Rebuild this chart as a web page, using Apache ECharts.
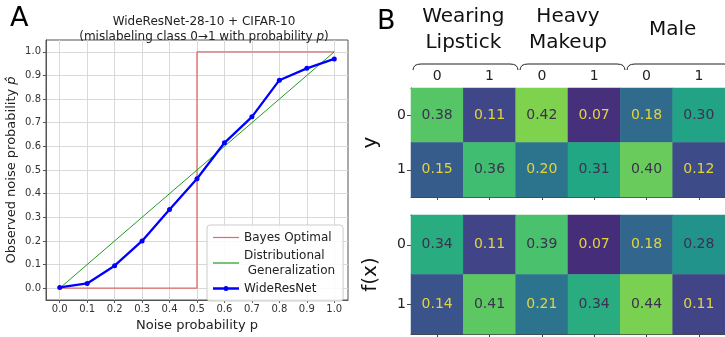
<!DOCTYPE html>
<html><head><meta charset="utf-8">
<script src="https://cdn.jsdelivr.net/npm/echarts@6/dist/echarts.min.js"></script>
<style>html,body{margin:0;padding:0;background:#fff}#c{width:725px;height:337px}</style>
</head><body><div id="c"></div>
<script>
// ---- data ----
const noiseP = [0.0, 0.1, 0.2, 0.3, 0.4, 0.5, 0.6, 0.7, 0.8, 0.9, 1.0];
const wideResNet = [0.003, 0.02, 0.095, 0.20, 0.333, 0.463, 0.615, 0.725, 0.88, 0.93, 0.97];
const bayesX = [0.0, 0.5, 0.5, 1.0];
const bayesY = [0.0, 0.0, 1.0, 1.0];
const distX = [0.0, 1.0];
const distY = [0.0, 1.0];
const tickValues = [0.0, 0.1, 0.2, 0.3, 0.4, 0.5, 0.6, 0.7, 0.8, 0.9, 1.0];
const groups = ['Wearing\nLipstick', 'Heavy\nMakeup', 'Male'];
const colLabels = ['0', '1', '0', '1', '0', '1'];
const rowLabels = ['0', '1'];
const yMatrix = [[0.38, 0.11, 0.42, 0.07, 0.18, 0.30], [0.15, 0.36, 0.20, 0.31, 0.40, 0.12]];
const fxMatrix = [[0.34, 0.11, 0.39, 0.07, 0.18, 0.28], [0.14, 0.41, 0.21, 0.34, 0.44, 0.11]];

// ---- layout / style ----
const FONT = 'DejaVu Sans';
const viridis = ['#440154', '#482475', '#414487', '#355f8d', '#2a788e', '#21918c', '#22a884', '#44bf70', '#7ad151', '#bddf26', '#fde725'];
const hmLeft = 411, hmWidth = 321;
const cellW = hmWidth / colLabels.length;
// thin horizontal bar icons (outer move-tos keep the bounding box 26x10)
const lineIcon = 'path://M0,0 M26,10 M0,4.4 L26,4.4 L26,5.6 L0,5.6 Z';
const markerIcon = 'path://M0,0 M26,10 M0,3.8 L26,3.8 L26,6.2 L0,6.2 Z M10.5,5 A2.5,2.5 0 1 1 15.5,5 A2.5,2.5 0 1 1 10.5,5 Z';

function pairs(xs, ys) { return xs.map((x, i) => [x, ys[i]]); }
function hmData(m) {
  const out = [];
  m.forEach((row, r) => row.forEach((v, c) => out.push({
    value: [c, r, v],
    label: { color: v < 0.25 ? '#e4d43c' : '#3d3050' }
  })));
  return out;
}

const chart = echarts.init(document.getElementById('c'), null, { renderer: 'canvas' });

const braces = groups.map((g, i) => {
  const x0 = hmLeft + 2 * i * cellW + 2, x1 = hmLeft + 2 * (i + 1) * cellW;
  return {
    type: 'polyline', silent: true,
    shape: { points: [[x0, 70], [x0 + 0.6, 67.5], [x0 + 2, 65.5], [x0 + 4.5, 64.4], [x0 + 8, 64],
                      [x1 - 8, 64], [x1 - 4.5, 64.4], [x1 - 2, 65.5], [x1 - 0.6, 67.5], [x1, 70]] },
    style: { fill: null, stroke: '#222', lineWidth: 1 }
  };
});

const heatAxisCommon = {
  axisLine: { show: true, lineStyle: { color: '#444', width: 1 } },
  splitLine: { show: false }
};

chart.setOption({
  animation: false,
  textStyle: { fontFamily: FONT },
  title: [{
    text: 'WideResNet-28-10 + CIFAR-10\n(mislabeling class 0\u21921 with probability {i|p})',
    left: 199, top: 9, textAlign: 'center',
    textStyle: {
      fontFamily: FONT, fontSize: 12, fontWeight: 'normal', lineHeight: 15, color: '#222',
      rich: { i: { fontFamily: FONT, fontSize: 12, fontStyle: 'italic', color: '#222', lineHeight: 15 } }
    }
  }],
  graphic: [
    { type: 'text', left: 10, top: 5, style: { text: 'A', font: '27px ' + FONT, fill: '#000' } },
    { type: 'text', left: 377, top: 8, style: { text: 'B', font: '27px ' + FONT, fill: '#000' } },
    ...braces
  ],
  legend: {
    orient: 'vertical', left: 207, top: 225, itemWidth: 26, itemHeight: 10, itemGap: 3,
    padding: [5, 8, 5, 6], borderColor: '#ccc', borderWidth: 1, borderRadius: 3,
    backgroundColor: 'rgba(255,255,255,0.85)',
    textStyle: { fontFamily: FONT, fontSize: 12, color: '#222', lineHeight: 15 },
    data: [
      { name: 'Bayes Optimal', icon: lineIcon },
      { name: 'Distributional\n Generalization', icon: lineIcon },
      { name: 'WideResNet', icon: markerIcon }
    ]
  },
  grid: [
    { left: 46, top: 40, width: 302, height: 260, show: true, borderColor: '#555', borderWidth: 1, containLabel: false },
    { left: hmLeft, top: 88, width: hmWidth, height: 109, containLabel: false },
    { left: hmLeft, top: 215, width: hmWidth, height: 119, containLabel: false }
  ],
  visualMap: [
    { show: false, type: 'continuous', seriesIndex: 3, min: 0, max: 0.52, inRange: { color: viridis } },
    { show: false, type: 'continuous', seriesIndex: 4, min: 0, max: 0.55, inRange: { color: viridis } }
  ],
  xAxis: [
    {
      gridIndex: 0, type: 'value', min: -0.05, max: 1.05,
      name: 'Noise probability p', nameLocation: 'middle', nameGap: 16,
      nameTextStyle: { fontFamily: FONT, fontSize: 13, color: '#222' },
      axisLine: { show: true, onZero: false, lineStyle: { color: '#555' } },
      axisTick: { show: true, length: 3, customValues: tickValues, lineStyle: { color: '#555' } },
      axisLabel: { customValues: tickValues, fontSize: 10, color: '#333', margin: 4, formatter: v => v.toFixed(1) },
      splitLine: { show: true, lineStyle: { color: '#d9d9d9', width: 1 } }
    },
    Object.assign({
      gridIndex: 1, type: 'category', data: colLabels, position: 'bottom',
      axisTick: { show: true, alignWithLabel: true, length: 3, lineStyle: { color: '#444' } },
      axisLabel: { show: false }
    }, heatAxisCommon),
    Object.assign({
      gridIndex: 1, type: 'category', data: colLabels, position: 'top',
      axisTick: { show: false },
      axisLabel: { show: true, interval: 0, fontSize: 14, color: '#222', margin: 5 }
    }, heatAxisCommon),
    {
      gridIndex: 1, type: 'category', data: groups, position: 'top',
      axisLine: { show: false }, axisTick: { show: false }, splitLine: { show: false },
      axisLabel: { show: true, interval: 0, hideOverlap: false, fontSize: 20, lineHeight: 26, color: '#111', margin: 58, verticalAlign: 'middle', align: 'center' }
    },
    Object.assign({
      gridIndex: 2, type: 'category', data: colLabels, position: 'bottom',
      axisTick: { show: true, alignWithLabel: true, interval: 0, length: 3, lineStyle: { color: '#444' } },
      axisLabel: { show: false }
    }, heatAxisCommon),
    Object.assign({
      gridIndex: 2, type: 'category', data: colLabels, position: 'top',
      axisTick: { show: false }, axisLabel: { show: false }
    }, heatAxisCommon)
  ],
  yAxis: [
    {
      gridIndex: 0, type: 'value', min: -0.05, max: 1.05,
      name: 'Observed noise probability {i|p\u0302}', nameLocation: 'middle', nameGap: 28,
      nameTextStyle: {
        fontFamily: FONT, fontSize: 13, color: '#222',
        rich: { i: { fontFamily: FONT, fontSize: 13, fontStyle: 'italic', color: '#222' } }
      },
      axisLine: { show: true, onZero: false, lineStyle: { color: '#555' } },
      axisTick: { show: true, length: 3, customValues: tickValues, lineStyle: { color: '#555' } },
      axisLabel: { customValues: tickValues, fontSize: 10, color: '#333', margin: 5, formatter: v => v.toFixed(1) },
      splitLine: { show: true, lineStyle: { color: '#d9d9d9', width: 1 } }
    },
    Object.assign({
      gridIndex: 1, type: 'category', data: rowLabels, inverse: true,
      name: 'y', nameLocation: 'middle', nameGap: 30, nameRotate: 90,
      nameTextStyle: { fontFamily: FONT, fontSize: 20, color: '#111' },
      axisTick: { show: true, alignWithLabel: true, length: 4, lineStyle: { color: '#444' } },
      axisLabel: { fontSize: 14, color: '#222', margin: 5 }
    }, heatAxisCommon),
    Object.assign({
      gridIndex: 2, type: 'category', data: rowLabels, inverse: true,
      name: 'f(x)', nameLocation: 'middle', nameGap: 30, nameRotate: 90,
      nameTextStyle: { fontFamily: FONT, fontSize: 20, color: '#111' },
      axisTick: { show: true, alignWithLabel: true, length: 4, lineStyle: { color: '#444' } },
      axisLabel: { fontSize: 14, color: '#222', margin: 5 }
    }, heatAxisCommon)
  ],
  series: [
    {
      name: 'Bayes Optimal', type: 'line', xAxisIndex: 0, yAxisIndex: 0,
      data: pairs(bayesX, bayesY), symbol: 'none', showSymbol: false,
      lineStyle: { color: '#e06a6a', width: 1.3 }, itemStyle: { color: '#e06a6a' }, z: 2
    },
    {
      name: 'Distributional\n Generalization', type: 'line', xAxisIndex: 0, yAxisIndex: 0,
      data: pairs(distX, distY), symbol: 'none', showSymbol: false,
      lineStyle: { color: '#229922', width: 1 }, itemStyle: { color: '#229922' }, z: 3
    },
    {
      name: 'WideResNet', type: 'line', xAxisIndex: 0, yAxisIndex: 0,
      data: pairs(noiseP, wideResNet), symbol: 'circle', symbolSize: 5,
      lineStyle: { color: '#0000ff', width: 2.3 }, itemStyle: { color: '#0000ff' }, z: 4
    },
    {
      type: 'heatmap', xAxisIndex: 1, yAxisIndex: 1, data: hmData(yMatrix),
      label: { show: true, fontSize: 14, fontFamily: FONT, formatter: p => p.value[2].toFixed(2) },
      itemStyle: { borderWidth: 0 }
    },
    {
      type: 'heatmap', xAxisIndex: 4, yAxisIndex: 2, data: hmData(fxMatrix),
      label: { show: true, fontSize: 14, fontFamily: FONT, formatter: p => p.value[2].toFixed(2) },
      itemStyle: { borderWidth: 0 }
    }
  ]
});
</script>
</body></html>
